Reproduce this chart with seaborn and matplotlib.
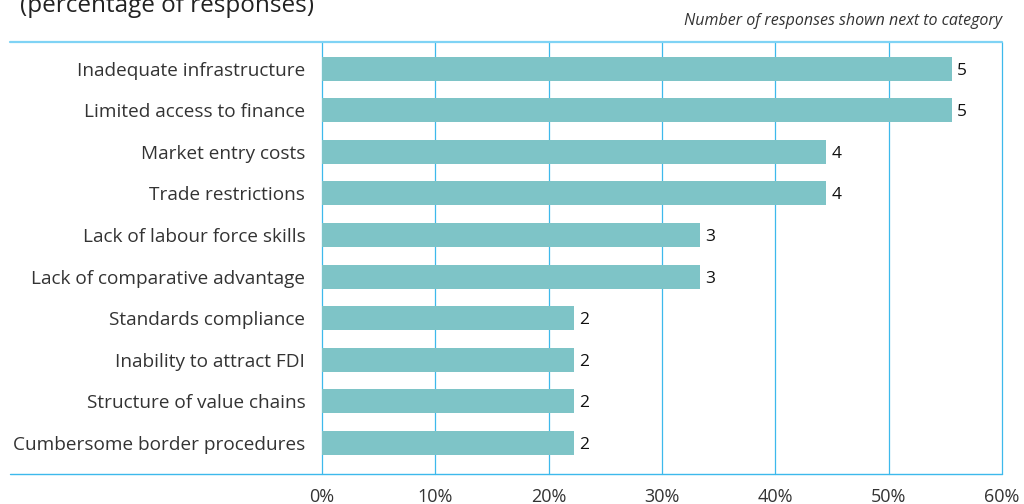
import matplotlib
matplotlib.use("Agg")
import matplotlib.pyplot as plt
import seaborn as sns
import pandas as pd

categories = [
    "Inadequate infrastructure",
    "Limited access to finance",
    "Market entry costs",
    "Trade restrictions",
    "Lack of labour force skills",
    "Lack of comparative advantage",
    "Standards compliance",
    "Inability to attract FDI",
    "Structure of value chains",
    "Cumbersome border procedures",
]
responses = [5, 5, 4, 4, 3, 3, 2, 2, 2, 2]
total_respondents = 9
x_ticks = [0, 10, 20, 30, 40, 50, 60]

df = pd.DataFrame({
    "category": categories,
    "share": [r / total_respondents * 100 for r in responses],
    "n": responses,
})

sns.set_theme(style="white")
plt.rcParams["font.family"] = ["Open Sans", "DejaVu Sans"]

W, H = 1024, 504
fig = plt.figure(figsize=(W / 100, H / 100), dpi=100)
left, right, top, bottom = 322, 1002, 42, 474
ax = fig.add_axes([left / W, 1 - bottom / H, (right - left) / W, (bottom - top) / H])

bar_color = "#7EC4C7"
grid_color = "#3DB9EC"

sns.barplot(data=df, x="share", y="category", color=bar_color, width=0.58,
            saturation=1, linewidth=0, ax=ax, zorder=3)

ax.set_xlim(0, 60)
ax.set_ylim(9.745, -0.64)
ax.set_xticks(x_ticks)
ax.set_xticklabels([f"{t}%" for t in x_ticks], fontsize=13, color="#333333")
ax.tick_params(axis="x", length=0, pad=10)
ax.tick_params(axis="y", length=0, pad=12, labelsize=13.7, labelcolor="#333333")
ax.set_xlabel("")
ax.set_ylabel("")

for s in ax.spines.values():
    s.set_visible(False)

# vertical gridlines
for t in x_ticks:
    ax.axvline(t, color=grid_color, lw=0.9, zorder=1, clip_on=False)

# top and bottom rules extending to the left edge
x0 = (10 - left) / (right - left)
ax.plot([x0, 1], [1, 1], transform=ax.transAxes, color="#7FD3F5", lw=1.6,
        clip_on=False, zorder=4)
ax.plot([x0, 1], [0, 0], transform=ax.transAxes, color=grid_color, lw=1.0,
        clip_on=False, zorder=4)

# response counts next to bars
for i, (v, n) in enumerate(zip(df["share"], df["n"])):
    ax.text(v + 0.5, i, str(n), va="center_baseline", ha="left",
            fontsize=12.5, color="#111111")

fig.text(1002 / W, 1 - 21 / H, "Number of responses shown next to category",
         ha="right", va="center", fontsize=11.5, style="italic", color="#333333")
fig.text(20 / W, 1 - 12 / H, "(percentage of responses)", ha="left",
         va="baseline", fontsize=17.5, color="#222222")

fig.savefig("out.png", dpi=100)
